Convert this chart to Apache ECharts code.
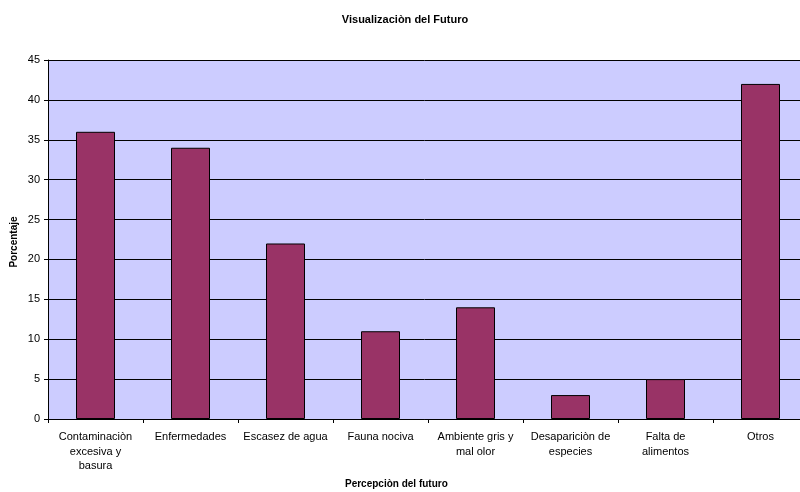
<!DOCTYPE html>
<html>
<head>
<meta charset="utf-8">
<script src="https://cdn.jsdelivr.net/npm/echarts@6/dist/echarts.min.js"></script>
<style>html,body{margin:0;padding:0;background:#fff}#c{width:800px;height:492px}</style>
</head>
<body>
<div id="c"></div>
<script>
var categories = ["Contaminaciòn\nexcesiva y\nbasura", "Enfermedades", "Escasez de agua", "Fauna nociva", "Ambiente gris y\nmal olor", "Desapariciòn de\nespecies", "Falta de\nalimentos", "Otros"];
var values = [36, 34, 22, 11, 14, 3, 5, 42];
var yTicks = [0, 5, 10, 15, 20, 25, 30, 35, 40, 45];

var chart = echarts.init(document.getElementById('c'), null, {renderer: 'canvas'});
var font = '"Liberation Sans", Arial, sans-serif';
chart.setOption({
  backgroundColor: '#ffffff',
  animation: false,
  title: {
    text: 'Visualizaciòn del Futuro',
    left: 400, top: 9, textAlign: 'center',
    textStyle: {fontFamily: font, fontSize: 11, fontWeight: 'bold', color: '#000'}
  },
  grid: {left: 48, top: 60, width: 760, bottom: 73, containLabel: false,
         outerBoundsMode: 'none',
         show: true, backgroundColor: '#CCCCFF', borderWidth: 0},
  xAxis: {
    type: 'category', data: categories,
    axisLine: {show: true, lineStyle: {color: '#000', width: 1}},
    axisTick: {show: true, length: 4, lineStyle: {color: '#000'}, alignWithLabel: false},
    axisLabel: {fontFamily: font, fontSize: 11, color: '#000', margin: 11, lineHeight: 14.5, interval: 0}
  },
  yAxis: {
    type: 'value', min: yTicks[0], max: yTicks[yTicks.length - 1], interval: 5,
    axisLine: {show: true, lineStyle: {color: '#000', width: 1}},
    axisTick: {show: true, length: 4, lineStyle: {color: '#000'}},
    splitLine: {show: true, lineStyle: {color: '#000', width: 1}},
    axisLabel: {fontFamily: font, fontSize: 11, color: '#000', margin: 8}
  },
  graphic: [
    {type: 'text', left: 345, top: 479,
     style: {text: 'Percepciòn del futuro', font: 'bold 10px "Liberation Sans", Arial, sans-serif', fill: '#000'}},
    {type: 'text', x: 14, y: 242, rotation: Math.PI / 2,
     style: {text: 'Porcentaje', font: 'bold 10px "Liberation Sans", Arial, sans-serif', fill: '#000', align: 'center', verticalAlign: 'middle'}}
  ],
  series: [{
    type: 'bar', data: values, barWidth: 39,
    itemStyle: {color: '#993366', borderColor: '#000', borderWidth: 1}
  }]
});
</script>
</body>
</html>
